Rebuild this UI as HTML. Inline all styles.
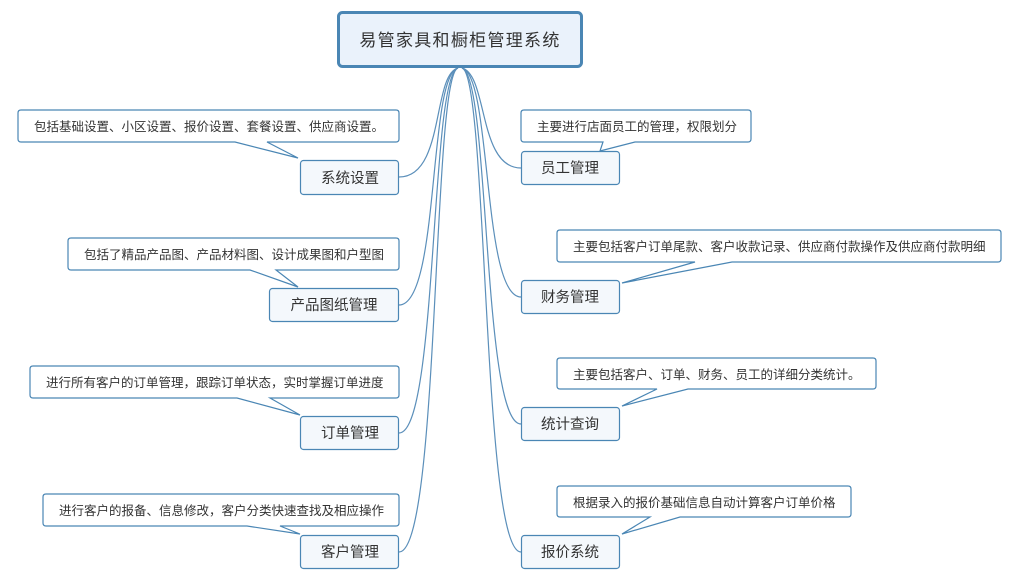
<!DOCTYPE html>
<html><head><meta charset="utf-8"><style>
html,body{margin:0;padding:0;background:#fff;width:1019px;height:579px;overflow:hidden}
svg text{font-family:"Liberation Sans","Noto Sans CJK SC",sans-serif;fill:#333}
</style></head><body>
<svg width="1019" height="579" viewBox="0 0 1019 579" xmlns="http://www.w3.org/2000/svg">
<g fill="none" stroke="#5b8fba" stroke-width="1.2">
<path d="M458,68 C432,75 445,177 399,177"/>
<path d="M458,68 C428,75 440,305 399,305"/>
<path d="M458,68 C430,75 438,433 399,433"/>
<path d="M458,68 C432,75 440,552 399,552"/>
<path d="M462,68 C488,75 478,168 521,168"/>
<path d="M462,68 C492,75 482,297 521,297"/>
<path d="M462,68 C490,75 482,424 521,424"/>
<path d="M462,68 C488,75 482,552 521,552"/>
</g>
<g fill="#fff" stroke="#4a86b4" stroke-width="1.2">
<path d="M21,110 H396 Q399,110 399,113 V139 Q399,142 396,142 H267 L298,158 L235,142 H21 Q18,142 18,139 V113 Q18,110 21,110Z"/>
<path d="M71,238 H396 Q399,238 399,241 V267 Q399,270 396,270 H276 L298,287 L250,270 H71 Q68,270 68,267 V241 Q68,238 71,238Z"/>
<path d="M33,366 H396 Q399,366 399,369 V395 Q399,398 396,398 H270 L300,415 L237,398 H33 Q30,398 30,395 V369 Q30,366 33,366Z"/>
<path d="M46,494 H396 Q399,494 399,497 V523 Q399,526 396,526 H280 L300,534 L247,526 H46 Q43,526 43,523 V497 Q43,494 46,494Z"/>
<path d="M524,110 H748 Q751,110 751,113 V139 Q751,142 748,142 H635 L600,151 L603,142 H524 Q521,142 521,139 V113 Q521,110 524,110Z"/>
<path d="M560,230 H998 Q1001,230 1001,233 V259 Q1001,262 998,262 H732 L622,283 L695,262 H560 Q557,262 557,259 V233 Q557,230 560,230Z"/>
<path d="M560,358 H873 Q876,358 876,361 V386 Q876,389 873,389 H688 L622,406 L657,389 H560 Q557,389 557,386 V361 Q557,358 560,358Z"/>
<path d="M560,486 H848 Q851,486 851,489 V514 Q851,517 848,517 H680 L622,534 L650,517 H560 Q557,517 557,514 V489 Q557,486 560,486Z"/>
</g>
<g font-size="12.5">
<text x="34" y="131">包括基础设置、小区设置、报价设置、套餐设置、供应商设置。</text>
<text x="84" y="259">包括了精品产品图、产品材料图、设计成果图和户型图</text>
<text x="46" y="387">进行所有客户的订单管理，跟踪订单状态，实时掌握订单进度</text>
<text x="59" y="515">进行客户的报备、信息修改，客户分类快速查找及相应操作</text>
<text x="537" y="131">主要进行店面员工的管理，权限划分</text>
<text x="573" y="251">主要包括客户订单尾款、客户收款记录、供应商付款操作及供应商付款明细</text>
<text x="573" y="379">主要包括客户、订单、财务、员工的详细分类统计。</text>
<text x="573" y="507">根据录入的报价基础信息自动计算客户订单价格</text>
</g>
<rect x="338.5" y="12.5" width="243" height="54" rx="4" fill="#eaf2fb" stroke="#4a86b4" stroke-width="3"/>
<text x="460" y="46" font-size="17" text-anchor="middle" letter-spacing="1.3">易管家具和橱柜管理系统</text>
<g fill="#f4f8fc" stroke="#4a86b4" stroke-width="1.2">
<rect x="300.5" y="160.5" width="98" height="34" rx="3"/>
<rect x="269.5" y="288.5" width="129" height="33" rx="3"/>
<rect x="300.5" y="416.5" width="98" height="33" rx="3"/>
<rect x="300.5" y="535.5" width="98" height="33" rx="3"/>
<rect x="521.5" y="151.5" width="98" height="33" rx="3"/>
<rect x="521.5" y="280.5" width="98" height="33" rx="3"/>
<rect x="521.5" y="407.5" width="98" height="33" rx="3"/>
<rect x="521.5" y="535.5" width="98" height="33" rx="3"/>
</g>
<g font-size="14.5" text-anchor="middle">
<text x="350" y="183">系统设置</text>
<text x="334" y="310">产品图纸管理</text>
<text x="350" y="438">订单管理</text>
<text x="350" y="557">客户管理</text>
<text x="570" y="173">员工管理</text>
<text x="570" y="302">财务管理</text>
<text x="570" y="429">统计查询</text>
<text x="570" y="557">报价系统</text>
</g>
</svg>
</body></html>
